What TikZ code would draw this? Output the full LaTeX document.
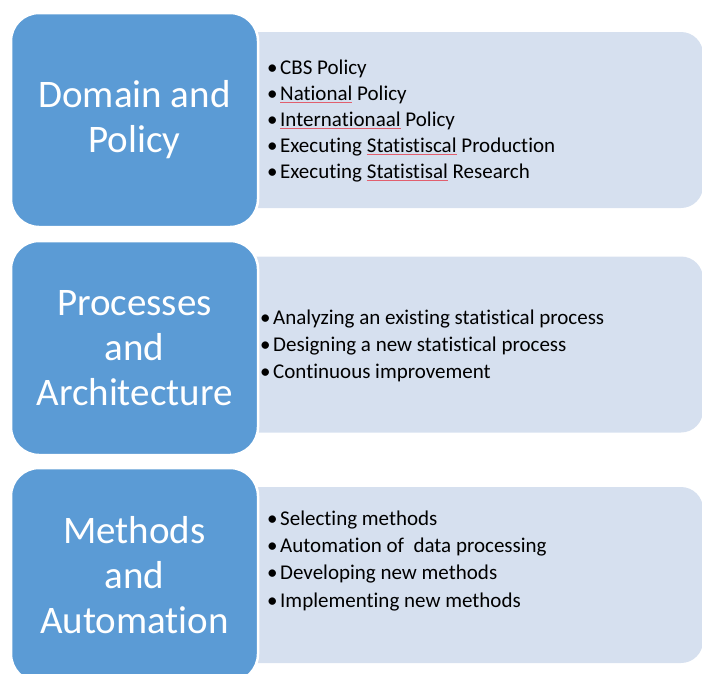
\documentclass[tikz,border=0pt]{standalone}
\usepackage{fontspec}
\setmainfont{Carlito}[Ligatures=NoCommon]
% bullet with its tab stop
\newcommand{\itm}{\makebox[13pt][l]{\textbullet}}
% word flagged by the spell checker
\newsavebox{\typobox}
\newcommand{\typo}[1]{\sbox{\typobox}{#1}%
  \rlap{{\color{typored}\rule[-3pt]{\wd\typobox}{1pt}}}\usebox{\typobox}}
\begin{document}
\begin{tikzpicture}[x=1pt, y=-1pt,
  catbox/.style={draw=white, line width=2.5pt, fill=catblue, rounded corners=28pt,
    minimum width=247pt, minimum height=214pt, text=white, align=center,
    font=\fontsize{39}{45}\selectfont},
  listbox/.style={fill=listblue, rounded corners=22pt,
    minimum width=472pt, minimum height=176pt},
  listtext/.style={anchor=base west, inner sep=0pt, align=left,
    font=\fontsize{21}{26}\selectfont}]
\definecolor{catblue}{RGB}{91,155,213}
\definecolor{listblue}{RGB}{214,224,239}
\definecolor{typored}{RGB}{225,95,110}
\useasboundingbox (0,0) rectangle (702,673);
% Detail panels (left end hidden behind the category boxes)
\node[listbox] (domlist) at (467,120) {};
\node[listbox] (proclist) at (467,344.5) {};
\node[listbox] (methlist) at (467,575) {};
% Category boxes
\node[catbox] (dom) at (134.5,120) {Domain and\\Policy};
\node[catbox] (proc) at (134.5,348) {Processes\\and\\Architecture};
\node[catbox] (meth) at (134.5,575) {Methods\\and\\Automation};
% Bullet lists (placed by the baseline of their last line)
\node[listtext] (domitems) at (267,178) {\itm CBS Policy\\
  \itm \typo{National} Policy\\
  \itm \typo{Internationaal} Policy\\
  \itm Executing \typo{Statistiscal} Production\\
  \itm Executing \typo{Statistisal} Research};
\node[listtext, font=\fontsize{21}{27}\selectfont] (procitems) at (260,378) {\itm Analyzing an existing statistical process\\
  \itm Designing a new statistical process\\
  \itm Continuous improvement};
\node[listtext, font=\fontsize{21}{27.3}\selectfont] (methitems) at (267,607) {\itm Selecting methods\\
  \itm Automation of~ data processing\\
  \itm Developing new methods\\
  \itm Implementing new methods};
\end{tikzpicture}
\end{document}
